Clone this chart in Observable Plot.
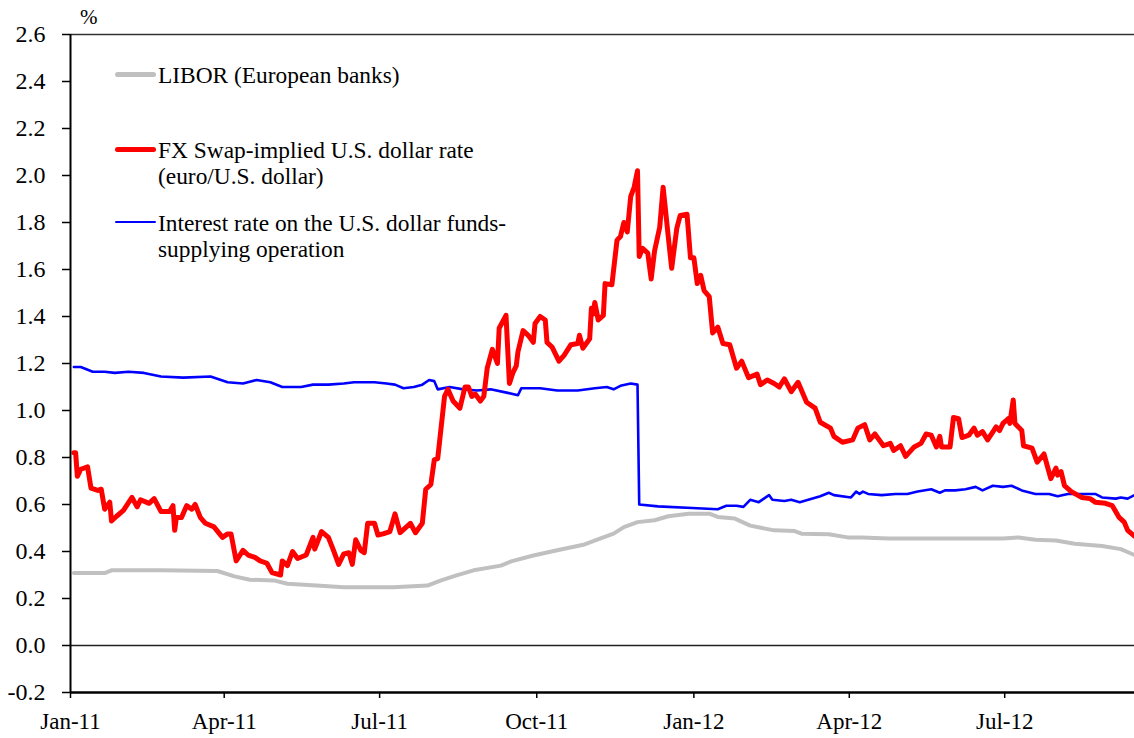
<!DOCTYPE html>
<html>
<head>
<meta charset="utf-8">
<script src="https://cdn.jsdelivr.net/npm/d3@7"></script>
<script src="https://cdn.jsdelivr.net/npm/@observablehq/plot@0.6"></script>
<style>
  body { margin: 0; background: #fff; }
  #wrap { position: relative; width: 1134px; height: 738px; font-family: "Liberation Serif", "Times New Roman", serif; color: #000; }
  #wrap svg { position: absolute; left: 0; top: 0; }
  .pct { position: absolute; left: 80px; top: 5px; font-size: 21px; }
  .leg { position: absolute; font-size: 23.4px; line-height: 26px; white-space: nowrap; }
  .sw { position: absolute; }
</style>
</head>
<body>
<div id="wrap"></div>
<script>
// ---- data ----
const seriesNames = ["LIBOR (European banks)", "FX Swap-implied U.S. dollar rate (euro/U.S. dollar)", "Interest rate on the U.S. dollar funds-supplying operation"];

const fxDates = ["2011-01-03","2011-01-04","2011-01-05","2011-01-07","2011-01-11","2011-01-13","2011-01-17","2011-01-19","2011-01-21","2011-01-24","2011-01-25","2011-01-28","2011-02-01","2011-02-06","2011-02-09","2011-02-11","2011-02-16","2011-02-19","2011-02-23","2011-02-28","2011-03-02","2011-03-03","2011-03-04","2011-03-07","2011-03-10","2011-03-13","2011-03-15","2011-03-18","2011-03-21","2011-03-26","2011-03-31","2011-04-03","2011-04-05","2011-04-08","2011-04-12","2011-04-15","2011-04-19","2011-04-22","2011-04-26","2011-04-29","2011-05-04","2011-05-05","2011-05-08","2011-05-11","2011-05-14","2011-05-19","2011-05-23","2011-05-24","2011-05-28","2011-06-01","2011-06-04","2011-06-07","2011-06-10","2011-06-13","2011-06-15","2011-06-17","2011-06-20","2011-06-22","2011-06-24","2011-06-28","2011-06-30","2011-07-03","2011-07-07","2011-07-10","2011-07-13","2011-07-19","2011-07-22","2011-07-26","2011-07-28","2011-07-31","2011-08-02","2011-08-04","2011-08-08","2011-08-10","2011-08-13","2011-08-17","2011-08-20","2011-08-22","2011-08-24","2011-08-26","2011-08-29","2011-08-31","2011-09-02","2011-09-05","2011-09-08","2011-09-09","2011-09-13","2011-09-15","2011-09-17","2011-09-19","2011-09-20","2011-09-23","2011-09-26","2011-09-29","2011-09-30","2011-10-03","2011-10-06","2011-10-07","2011-10-10","2011-10-14","2011-10-17","2011-10-21","2011-10-25","2011-10-26","2011-10-28","2011-11-01","2011-11-02","2011-11-03","2011-11-04","2011-11-06","2011-11-09","2011-11-10","2011-11-14","2011-11-17","2011-11-19","2011-11-21","2011-11-23","2011-11-25","2011-11-27","2011-11-29","2011-11-30","2011-12-02","2011-12-05","2011-12-07","2011-12-09","2011-12-12","2011-12-14","2011-12-17","2011-12-19","2011-12-22","2011-12-24","2011-12-28","2011-12-30","2012-01-01","2012-01-03","2012-01-05","2012-01-07","2012-01-10","2012-01-12","2012-01-15","2012-01-18","2012-01-22","2012-01-26","2012-01-29","2012-02-02","2012-02-07","2012-02-09","2012-02-13","2012-02-17","2012-02-20","2012-02-23","2012-02-27","2012-03-02","2012-03-07","2012-03-12","2012-03-15","2012-03-21","2012-03-23","2012-03-28","2012-04-03","2012-04-06","2012-04-10","2012-04-13","2012-04-16","2012-04-21","2012-04-25","2012-04-27","2012-05-01","2012-05-04","2012-05-09","2012-05-13","2012-05-16","2012-05-19","2012-05-22","2012-05-24","2012-05-25","2012-05-30","2012-06-01","2012-06-04","2012-06-06","2012-06-10","2012-06-13","2012-06-15","2012-06-18","2012-06-21","2012-06-26","2012-06-28","2012-06-30","2012-07-03","2012-07-04","2012-07-06","2012-07-07","2012-07-11","2012-07-12","2012-07-17","2012-07-20","2012-07-24","2012-07-28","2012-07-31","2012-08-01","2012-08-03","2012-08-05","2012-08-09","2012-08-15","2012-08-20","2012-08-23","2012-08-29","2012-09-02","2012-09-06","2012-09-09","2012-09-11","2012-09-15"];
const fxValues = [0.82,0.82,0.72,0.75,0.76,0.67,0.66,0.665,0.58,0.61,0.53,0.55,0.575,0.63,0.59,0.62,0.605,0.625,0.57,0.57,0.595,0.49,0.545,0.545,0.595,0.58,0.60,0.545,0.52,0.505,0.46,0.475,0.475,0.36,0.405,0.385,0.375,0.36,0.35,0.31,0.30,0.36,0.34,0.40,0.37,0.385,0.46,0.41,0.485,0.46,0.405,0.345,0.39,0.395,0.345,0.45,0.405,0.395,0.52,0.52,0.47,0.475,0.485,0.56,0.48,0.52,0.48,0.52,0.665,0.685,0.79,0.795,1.06,1.09,1.04,1.01,1.10,1.10,1.06,1.07,1.04,1.06,1.18,1.26,1.20,1.35,1.405,1.115,1.16,1.19,1.25,1.34,1.32,1.29,1.37,1.40,1.385,1.29,1.27,1.21,1.235,1.28,1.285,1.32,1.265,1.305,1.435,1.41,1.46,1.385,1.405,1.54,1.535,1.725,1.74,1.80,1.76,1.91,1.95,2.02,1.655,1.69,1.67,1.56,1.68,1.78,1.95,1.74,1.605,1.775,1.83,1.835,1.65,1.65,1.54,1.575,1.51,1.485,1.33,1.355,1.285,1.28,1.18,1.21,1.14,1.155,1.11,1.13,1.115,1.10,1.135,1.08,1.12,1.035,1.01,0.95,0.925,0.89,0.865,0.875,0.925,0.94,0.875,0.90,0.85,0.86,0.83,0.85,0.805,0.845,0.86,0.90,0.895,0.845,0.89,0.845,0.845,0.97,0.965,0.885,0.895,0.925,0.895,0.91,0.875,0.93,0.915,0.945,0.965,0.945,1.045,0.945,0.915,0.85,0.84,0.78,0.815,0.71,0.755,0.725,0.74,0.68,0.655,0.63,0.625,0.61,0.605,0.595,0.545,0.525,0.49,0.465];

const opDates = ["2011-01-03","2011-01-07","2011-01-14","2011-01-21","2011-01-27","2011-02-04","2011-02-13","2011-02-23","2011-03-08","2011-03-24","2011-04-03","2011-04-12","2011-04-20","2011-04-28","2011-05-05","2011-05-16","2011-05-23","2011-06-01","2011-06-10","2011-06-16","2011-06-28","2011-07-05","2011-07-10","2011-07-15","2011-07-21","2011-07-26","2011-07-30","2011-08-02","2011-08-04","2011-08-11","2011-08-19","2011-08-27","2011-09-04","2011-09-14","2011-09-20","2011-09-22","2011-10-03","2011-10-13","2011-10-25","2011-11-04","2011-11-11","2011-11-15","2011-11-19","2011-11-25","2011-11-29","2011-11-30","2011-12-11","2012-01-03","2012-01-15","2012-01-20","2012-01-26","2012-01-30","2012-02-03","2012-02-08","2012-02-11","2012-02-14","2012-02-16","2012-02-23","2012-02-27","2012-03-03","2012-03-08","2012-03-15","2012-03-20","2012-03-23","2012-04-02","2012-04-05","2012-04-07","2012-04-09","2012-04-12","2012-04-20","2012-04-28","2012-05-05","2012-05-11","2012-05-19","2012-05-24","2012-05-27","2012-06-02","2012-06-08","2012-06-14","2012-06-18","2012-06-24","2012-06-30","2012-07-05","2012-07-11","2012-07-19","2012-07-27","2012-08-01","2012-08-07","2012-08-17","2012-08-23","2012-08-27","2012-09-04","2012-09-07","2012-09-11","2012-09-15"];
const opValues = [1.185,1.185,1.165,1.165,1.16,1.165,1.16,1.145,1.14,1.145,1.12,1.115,1.13,1.12,1.10,1.10,1.11,1.11,1.115,1.12,1.12,1.115,1.11,1.095,1.10,1.11,1.13,1.125,1.09,1.10,1.09,1.085,1.09,1.075,1.065,1.095,1.095,1.085,1.085,1.095,1.10,1.09,1.105,1.115,1.11,0.60,0.592,0.584,0.58,0.595,0.595,0.59,0.62,0.61,0.625,0.64,0.62,0.615,0.62,0.61,0.62,0.635,0.65,0.64,0.63,0.655,0.645,0.655,0.645,0.64,0.645,0.645,0.655,0.665,0.65,0.66,0.66,0.665,0.675,0.66,0.68,0.675,0.68,0.66,0.645,0.645,0.635,0.645,0.645,0.645,0.63,0.625,0.63,0.625,0.64];

const liborDates = ["2011-01-03","2011-01-21","2011-01-25","2011-02-23","2011-03-28","2011-04-07","2011-04-16","2011-04-30","2011-05-08","2011-05-25","2011-06-10","2011-07-09","2011-07-29","2011-08-06","2011-08-15","2011-08-25","2011-09-10","2011-09-16","2011-09-29","2011-10-13","2011-10-29","2011-11-07","2011-11-15","2011-11-21","2011-11-29","2011-12-09","2011-12-17","2011-12-29","2012-01-10","2012-01-15","2012-01-25","2012-02-03","2012-02-17","2012-02-29","2012-03-04","2012-03-20","2012-03-31","2012-04-08","2012-04-24","2012-05-22","2012-06-30","2012-07-09","2012-07-19","2012-07-31","2012-08-11","2012-08-27","2012-09-07","2012-09-15"];
const liborValues = [0.308,0.308,0.32,0.32,0.317,0.294,0.28,0.277,0.263,0.255,0.248,0.248,0.255,0.277,0.298,0.32,0.34,0.358,0.383,0.405,0.43,0.455,0.476,0.504,0.525,0.533,0.55,0.561,0.561,0.547,0.54,0.51,0.49,0.487,0.476,0.473,0.46,0.46,0.455,0.455,0.455,0.46,0.45,0.447,0.433,0.423,0.41,0.385];

const xTickLabels = ["Jan-11","Apr-11","Jul-11","Oct-11","Jan-12","Apr-12","Jul-12"];
const xTickDates = ["2011-01-01","2011-04-01","2011-07-01","2011-10-01","2012-01-01","2012-04-01","2012-07-01"];
const yTicks = [-0.2,0,0.2,0.4,0.6,0.8,1.0,1.2,1.4,1.6,1.8,2.0,2.2,2.4,2.6];
const xDomain = ["2011-01-01","2012-09-15"];
const yDomain = [-0.2, 2.6];

// ---- build ----
const P = d3.utcParse("%Y-%m-%d");
const toRows = (ds, vs, name) => ds.map((d, i) => ({date: P(d), value: vs[i], series: name}));
const libor = toRows(liborDates, liborValues, seriesNames[0]);
const fx = toRows(fxDates, fxValues, seriesNames[1]);
const op = toRows(opDates, opValues, seriesNames[2]);
const xTicks = xTickDates.map(P);
const labelOf = new Map(xTicks.map((d, i) => [+d, xTickLabels[i]]));

const plot = Plot.plot({
  width: 1134,
  height: 738,
  marginLeft: 70,
  marginRight: 0,
  marginTop: 34,
  marginBottom: 46,
  style: {fontFamily: "'Liberation Serif', 'Times New Roman', serif", fontSize: "22px", background: "white", color: "black"},
  x: {type: "utc", domain: xDomain.map(P)},
  y: {domain: yDomain},
  marks: [
    Plot.ruleY([yDomain[1]], {stroke: "#333", strokeWidth: 1.5}),
    Plot.ruleY([0], {stroke: "#222", strokeWidth: 1.5}),
    Plot.line(libor, {x: "date", y: "value", stroke: "#c0c0c0", strokeWidth: 4, strokeLinejoin: "round"}),
    Plot.line(op, {x: "date", y: "value", stroke: "#0000ff", strokeWidth: 2.6, strokeLinejoin: "round"}),
    Plot.line(fx, {x: "date", y: "value", stroke: "#ff0000", strokeWidth: 5, strokeLinejoin: "round"}),
    Plot.axisY({ticks: yTicks, tickSize: 8, tickPadding: 17, tickFormat: d => d.toFixed(1), stroke: "black", strokeWidth: 1.5, fontSize: 24, label: null}),
    Plot.axisX({ticks: xTicks, tickSize: 6, tickPadding: 14, tickFormat: d => labelOf.get(+d), stroke: "black", strokeWidth: 1.5, fontSize: 23, label: null}),
    Plot.ruleY([yDomain[0]], {stroke: "black", strokeWidth: 2.5}),
    Plot.ruleX([P(xDomain[0])], {stroke: "black", strokeWidth: 2})
  ]
});

const wrap = document.getElementById("wrap");
wrap.appendChild(plot);

const pct = document.createElement("div");
pct.className = "pct";
pct.textContent = "%";
wrap.appendChild(pct);

const legend = [
  {color: "#c0c0c0", w: 5, y: 74, lines: ["LIBOR (European banks)"]},
  {color: "#ff0000", w: 5, y: 149, lines: ["FX Swap-implied U.S. dollar rate", "(euro/U.S. dollar)"]},
  {color: "#0000ff", w: 2.5, y: 222, lines: ["Interest rate on the U.S. dollar funds-", "supplying operation"]}
];
legend.forEach(item => {
  const sw = document.createElement("div");
  sw.className = "sw";
  sw.style.left = "115px";
  sw.style.width = "41px";
  sw.style.top = (item.y - item.w / 2) + "px";
  sw.style.height = item.w + "px";
  sw.style.background = item.color;
  sw.style.borderRadius = (item.w / 2) + "px";
  wrap.appendChild(sw);
  const t = document.createElement("div");
  t.className = "leg";
  t.style.left = "158px";
  t.style.top = (item.y - 12) + "px";
  t.innerHTML = item.lines.join("<br>");
  wrap.appendChild(t);
});
</script>
</body>
</html>
